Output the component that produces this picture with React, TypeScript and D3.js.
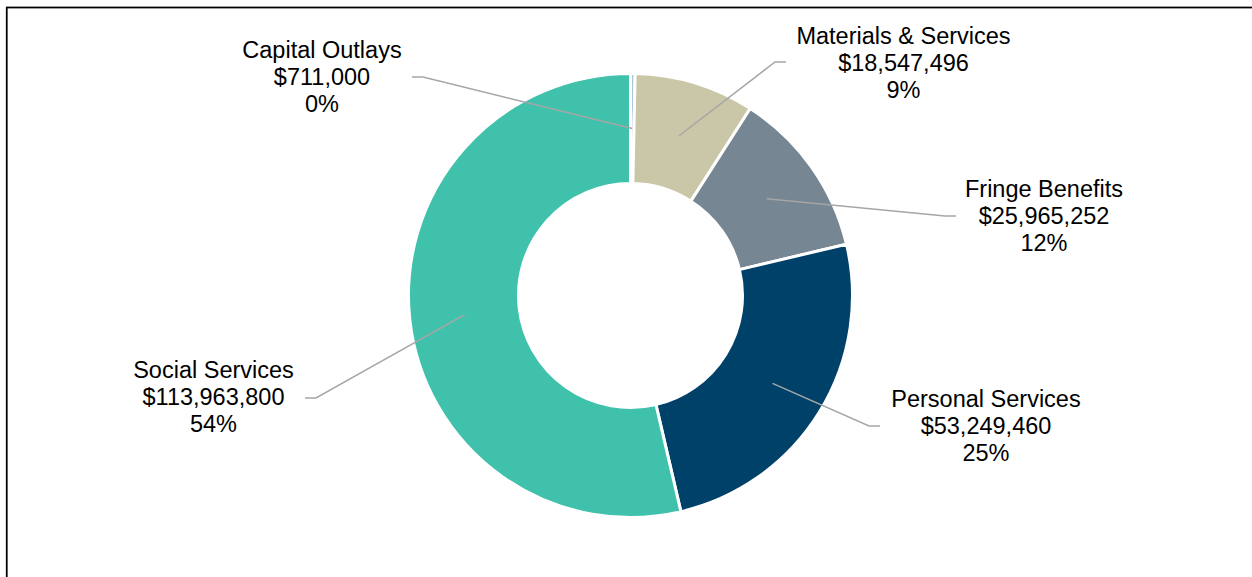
import React, { useEffect, useRef } from 'react';
import * as d3 from 'd3';

// expense categories, clockwise from 12 o'clock
const categories = ['Capital Outlays', 'Materials & Services', 'Fringe Benefits', 'Personal Services', 'Social Services'];
const amounts = [711000, 18547496, 25965252, 53249460, 113963800];
const colors = ['#a9c7d9', '#c9c7a7', '#768692', '#00416a', '#40c1ac'];

// label placement: text centre x, middle-line baseline, leader end point
const labelLayout = [
  { tx: 322, ty: 84.5, ex: 412, ey: 77 },
  { tx: 903.5, ty: 71, ex: 786, ey: 62 },
  { tx: 1044, ty: 224, ex: 956, ey: 216 },
  { tx: 986, ty: 434, ex: 880, ey: 426 },
  { tx: 213.5, ty: 405, ex: 305, ey: 398 },
];

const W = 1252;
const H = 577;

export default () => {
  const svgRef = useRef<SVGSVGElement>(null);

  useEffect(() => {
    if (!svgRef.current) return;
    const svg = d3.select(svgRef.current);
    svg.selectAll('*').remove();

    // frame
    svg.append('rect')
      .attr('x', 6.75).attr('y', 7.5)
      .attr('width', W + 10).attr('height', H + 10)
      .attr('fill', 'none')
      .attr('stroke', '#000')
      .attr('stroke-width', 1.75);

    const cx = 630.5;
    const cy = 295.5;
    const outerR = 222;
    const innerR = 112;

    const total = d3.sum(amounts);
    const data = categories.map((c, i) => ({ name: c, value: amounts[i], color: colors[i], layout: labelLayout[i] }));

    const pie = d3.pie<typeof data[0]>().sort(null).value(d => d.value);
    const arcs = pie(data);
    const arc = d3.arc<d3.PieArcDatum<typeof data[0]>>().innerRadius(innerR).outerRadius(outerR);

    const g = svg.append('g').attr('transform', `translate(${cx},${cy})`);

    g.selectAll('path.slice')
      .data(arcs)
      .enter()
      .append('path')
      .attr('class', 'slice')
      .attr('d', arc)
      .attr('fill', d => d.data.color)
      .attr('stroke', '#fff')
      .attr('stroke-width', 3)
      .attr('stroke-linejoin', 'round');

    // leader lines
    svg.selectAll('polyline.leader')
      .data(arcs)
      .enter()
      .append('polyline')
      .attr('class', 'leader')
      .attr('points', d => {
        const [mx, my] = arc.centroid(d);
        const L = d.data.layout;
        const dir = L.ex > cx ? -1 : 1;
        const elbowX = L.ex + dir * 11;
        return `${cx + mx},${cy + my} ${elbowX},${L.ey} ${L.ex},${L.ey}`;
      })
      .attr('fill', 'none')
      .attr('stroke', '#a6a6a6')
      .attr('stroke-width', 1.5);

    const fmt = d3.format('$,');
    const labels = svg.selectAll('text.lbl')
      .data(arcs)
      .enter()
      .append('text')
      .attr('class', 'lbl')
      .attr('text-anchor', 'middle')
      .attr('font-family', 'Liberation Sans, Arial, sans-serif')
      .attr('font-size', 23.5)
      .attr('fill', '#000');

    labels.each(function (d) {
      const t = d3.select(this);
      const L = d.data.layout;
      const lines = [d.data.name, fmt(d.data.value), `${Math.round((d.data.value / total) * 100)}%`];
      lines.forEach((s, i) => {
        t.append('tspan')
          .attr('x', L.tx)
          .attr('y', L.ty + (i - 1) * 27)
          .text(s);
      });
    });
  }, []);

  return (
    <svg
      ref={svgRef}
      width={W}
      height={H}
      style={{ position: 'absolute', left: 0, top: 0, background: '#fff' }}
    />
  );
};
